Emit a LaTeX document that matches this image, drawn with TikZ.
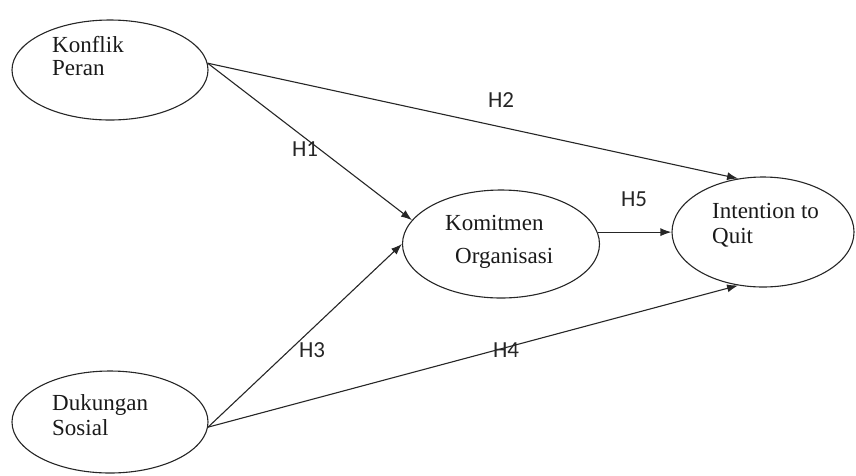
\documentclass[tikz,border=0pt]{standalone}
\usepackage{fontspec}
\setmainfont{Liberation Serif}
\newfontfamily\hfont{Carlito}
\usetikzlibrary{shapes.geometric,arrows.meta}
\tikzset{
  var/.style={draw=black!85, line width=1.1pt, ellipse, inner sep=0pt},
  vtext/.style={anchor=base west, inner sep=0pt, font=\fontsize{23}{23}\selectfont, text=black!90},
  hlab/.style={inner sep=0pt, font=\hfont\fontsize{23}{23}\selectfont, text=black!85},
  path/.style={draw=black!85, line width=1.1pt, -{Latex[length=11pt,width=8pt]}}
}
\begin{document}
\begin{tikzpicture}[x=1pt,y=-1pt]
\useasboundingbox (0,0) rectangle (856,475);
\node[var, minimum width=196pt, minimum height=100pt] (kp) at (110,70) {};
\node[var, minimum width=196pt, minimum height=102pt] (du) at (110,422) {};
\node[var, minimum width=197pt, minimum height=108pt] (ko) at (501,244) {};
\node[var, minimum width=182pt, minimum height=110pt] (iq) at (763,232) {};

\node[vtext] (t1) at (52,52) {Konflik};
\node[vtext] (t2) at (52,75) {Peran};
\node[vtext] (t3) at (52,410) {Dukungan};
\node[vtext] (t4) at (52,435) {Sosial};
\node[vtext] (t5) at (445,230) {Komitmen};
\node[vtext] (t6) at (455,263) {Organisasi};
\node[vtext] (t7) at (712,218) {Intention to};
\node[vtext] (t8) at (712,243) {Quit};

\draw[path] (kp.4) -- (ko.165);
\draw[path] (kp.4) -- (iq.115);
\draw[path] (du.-3) -- (ko.180);
\draw[path] (du.-3) -- (iq.245);
\draw[path] (ko.7) -- (iq.west |- ko.7);

\node[hlab] (h1) at (305,149) {H1};
\node[hlab] (h2) at (501,100) {H2};
\node[hlab] (h3) at (312,350) {H3};
\node[hlab] (h4) at (506,350) {H4};
\node[hlab] (h5) at (634,199) {H5};
\end{tikzpicture}
\end{document}
